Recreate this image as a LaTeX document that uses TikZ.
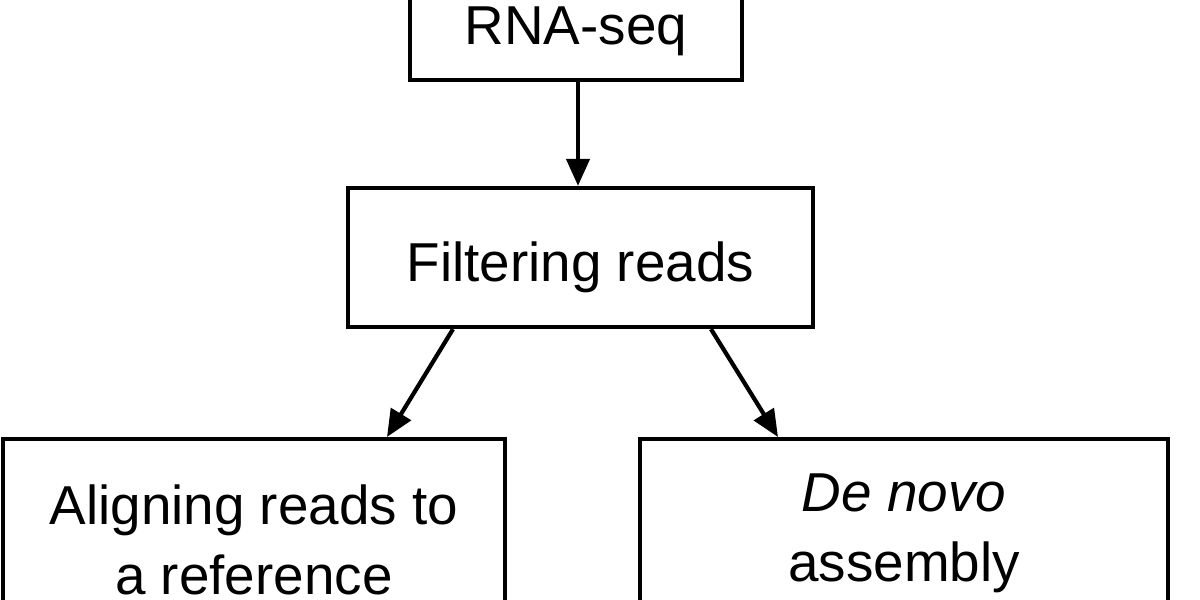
\documentclass[tikz,border=0pt]{standalone}
\usepackage{fontspec}
\setmainfont{Liberation Sans}
\usetikzlibrary{arrows.meta}
\begin{document}
\begin{tikzpicture}[x=1cm,y=1cm,
  box/.style={draw,line width=1.2pt,align=center,inner sep=0pt,
    font=\fontsize{15.6}{19.9}\selectfont},
  arr/.style={line width=1.2pt,-{Triangle[length=2.7mm,width=2.3mm]}}]
  \useasboundingbox (0,0) rectangle (12,6);
  \clip (0,0) rectangle (12,6);
  \node[box,minimum width=3.32cm,minimum height=0.98cm] (rna) at (5.76,5.69) {RNA-seq};
  \node[box,minimum width=4.65cm,minimum height=1.39cm,text height=0.49cm,text depth=0pt] (filt) at (5.805,3.425) {Filtering reads};
  \node[box,anchor=north,minimum width=5.02cm,minimum height=2.02cm] (align) at (2.54,1.63) {Aligning reads to\\a reference};
  \node[box,anchor=north,minimum width=5.28cm,minimum height=1.88cm] (denovo) at (9.04,1.63) {\textit{De novo}\\assembly};
  \draw[arr] ([xshift=0.02cm]rna.south) -- ([xshift=0.02cm]rna.south |- filt.north);
  \draw[arr] ([xshift=-1.275cm]filt.south) -- ([xshift=1.33cm]align.north);
  \draw[arr] ([xshift=1.305cm]filt.south) -- ([xshift=-1.26cm]denovo.north);
\end{tikzpicture}
\end{document}
